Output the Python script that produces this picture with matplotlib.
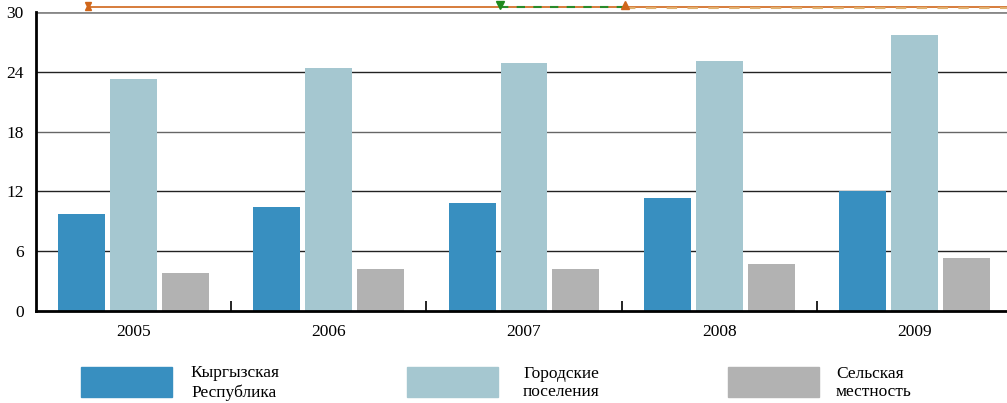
import matplotlib.pyplot as plt
from matplotlib.lines import Line2D
from matplotlib.patches import Rectangle
import numpy as np

plt.rcParams['font.family'] = ['Liberation Serif', 'DejaVu Serif']

years = ['2005', '2006', '2007', '2008', '2009']
kyrgyz = [9.7, 10.4, 10.8, 11.3, 12.0]
urban = [23.3, 24.4, 24.9, 25.1, 27.7]
rural = [3.8, 4.2, 4.2, 4.7, 5.3]
series_names = ['Кыргызская\nРеспублика', 'Городские\nпоселения', 'Сельская\nместность']
colors = ['#388fc0', '#a5c7d0', '#b2b2b2']
yticks = [0, 6, 12, 18, 24, 30]

W, H = 1007, 403
fig = plt.figure(figsize=(W / 100, H / 100), dpi=100)
ax = fig.add_axes([36 / W, 1 - 311 / H, (1012 - 36) / W, (311 - 12) / H])

x = np.arange(len(years))
width = 0.24
step = 0.266
for i, vals in enumerate([kyrgyz, urban, rural]):
    ax.bar(x + (i - 1) * step, vals, width, color=colors[i], zorder=3)

ax.set_xlim(-0.5, len(years) - 0.5)
ax.set_ylim(0, 30)
ax.set_yticks(yticks)
ax.set_yticklabels([str(t) for t in yticks], fontsize=12.5)
ax.tick_params(axis='y', length=0, pad=9)
for t in yticks[1:]:
    c = '#888888' if t == 30 else ('#666666' if t == 18 else '#222222')
    lw = 2 if t == 30 else 1
    ax.axhline(t, color=c, lw=lw, zorder=1)

ax.set_xticks(x)
ax.set_xticklabels(years, fontsize=12.5)
ax.tick_params(axis='x', length=0, pad=9)
ax.set_xticks(x[:-1] + 0.5, minor=True)
ax.tick_params(axis='x', which='minor', direction='in', length=7, width=1.2, color='black')

for s in ['top', 'right']:
    ax.spines[s].set_visible(False)
ax.spines['left'].set_linewidth(2)
ax.spines['bottom'].set_linewidth(2)
ax.spines['bottom'].set_zorder(4)

# legend
patch_x = [81, 407, 728]
text_x = [190, 523, 836]
for i in range(3):
    fig.add_artist(Rectangle((patch_x[i] / W, 1 - 397 / H), 91 / W, 30 / H,
                             transform=fig.transFigure, color=colors[i]))
    fig.text(text_x[i] / W, 1 - 383 / H, series_names[i], fontsize=12.5,
             ha='left', va='center', linespacing=1.25,
             multialignment='center' if i == 0 else 'left')

# fragment of another chart at top edge
yl = 1 - 7 / H
fig.add_artist(Line2D([88 / W, 1], [yl, yl], color='#d0661a', lw=1.2, transform=fig.transFigure))
fig.add_artist(Line2D([500 / W, 625 / W], [yl, yl], color='#2a8a2a', lw=1.5, ls=(0, (4, 4)),
                      transform=fig.transFigure))
fig.add_artist(Line2D([625 / W, 1], [yl - 0.002, yl - 0.002], color='#e0b070', lw=1.5,
                      ls=(0, (5, 5)), transform=fig.transFigure))
fig.add_artist(Line2D([88 / W], [yl + 0.006], marker='v', color='#d0661a', ms=5,
                      transform=fig.transFigure))
fig.add_artist(Line2D([88 / W], [yl - 0.001], marker='^', color='#d0661a', ms=4,
                      transform=fig.transFigure))
fig.add_artist(Line2D([500 / W], [yl + 0.004], marker='v', color='#1e8a1e', ms=6,
                      transform=fig.transFigure))
fig.add_artist(Line2D([625 / W], [yl + 0.006], marker='^', color='#d0661a', ms=6,
                      transform=fig.transFigure))

fig.savefig('out.png', dpi=100)
